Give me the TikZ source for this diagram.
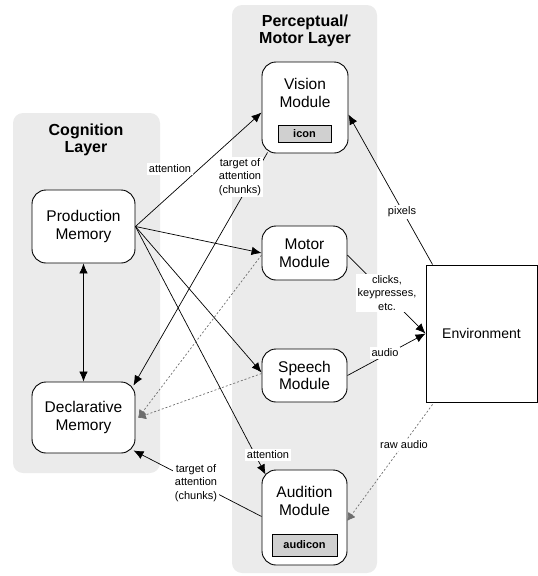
\documentclass[tikz,border=0pt]{standalone}
\usepackage{fontspec}
\setmainfont{Liberation Sans}
\usetikzlibrary{arrows.meta,calc}
\definecolor{panelgray}{RGB}{235,235,235}
\definecolor{boxgray}{RGB}{208,208,208}
\definecolor{dotgray}{RGB}{110,110,110}
\begin{document}
\begin{tikzpicture}[x=1pt,y=-1pt,
  panel/.style={fill=panelgray,draw=none,rounded corners=10pt},
  module/.style={draw,line width=0.9pt,rounded corners=14pt,fill=white,align=center,
    font=\fontsize{15.5}{17.5}\selectfont,inner sep=0pt},
  modtext/.style={font=\fontsize{15.5}{17.5}\selectfont,align=center},
  title/.style={font=\fontsize{16}{17.5}\selectfont\bfseries,align=center},
  lbl/.style={fill=white,align=center,font=\fontsize{11}{13.5}\selectfont,inner sep=1.5pt},
  buf/.style={draw,line width=0.9pt,fill=boxgray,font=\fontsize{11}{13}\selectfont\bfseries,inner sep=0pt},
  arr/.style={line width=0.7pt,-{Latex[length=10pt,width=8.5pt]}},
  darr/.style={line width=0.7pt,{Latex[length=10pt,width=8.5pt]}-{Latex[length=10pt,width=8.5pt]}},
  dotarr/.style={line width=0.7pt,dotgray,dash pattern=on 2pt off 2pt,-{Latex[length=8pt,width=9pt,round]}}
]
\useasboundingbox (0,0) rectangle (538,576);
% panels
\fill[panel] (13,113) rectangle (160,473);
\fill[panel] (232,5) rectangle (377,573);
\node[title] (tcog) at (86,140) {Cognition\\Layer};
\node[title] (tpm) at (305,31) {Perceptual/\\Motor Layer};
% modules
\node[module,minimum width=103pt,minimum height=73pt] (prod) at (83.5,226.5) {Production\\Memory};
\node[module,minimum width=103pt,minimum height=71pt] (decl) at (83.5,417.5) {Declarative\\Memory};
\node[module,minimum width=86pt,minimum height=91pt] (vision) at (305,107.5) {};
\node[modtext] (vlab) at (305,93) {Vision\\Module};
\node[buf,minimum width=53pt,minimum height=17pt] (icon) at (304.5,133.5) {icon};
\node[module,minimum width=85pt,minimum height=54pt] (motor) at (304.5,253) {Motor\\Module};
\node[module,minimum width=85pt,minimum height=53pt] (speech) at (304.5,375.5) {Speech\\Module};
\node[module,minimum width=85pt,minimum height=95pt] (aud) at (304.5,517.5) {};
\node[modtext] (alab) at (304.5,501) {Audition\\Module};
\node[buf,minimum width=65pt,minimum height=22pt] (audicon) at (304.5,545) {audicon};
\node[draw,line width=0.9pt,fill=white,minimum width=111pt,minimum height=137pt,
  font=\fontsize{14}{17}\selectfont] (env) at (481.5,333.5) {Environment};
% connectors
\draw[arr] (prod.east) -- ([yshift=-5pt]vision.west);
\draw[arr] (prod.east) -- (motor.west);
\draw[arr] (prod.east) -- ([yshift=3pt]speech.west);
\draw[arr] (prod.east) -- ($(aud.north west)+(4,5)$);
\draw[darr] (prod.south) -- (decl.north);
\draw[arr] ($(vision.south west)+(6,-1)$) -- ($(decl.north east)+(-2,4)$);
\draw[dotarr] ([yshift=-2pt]motor.west) -- ([xshift=3pt]decl.east);
\draw[dotarr] ([yshift=2pt]speech.west) -- ([xshift=3pt]decl.east);
\draw[arr] ([yshift=1pt]aud.west) -- ($(decl.south east)+(-2,-3)$);
\draw[arr] ($(env.north west)+(7,0)$) -- ([yshift=-7pt]vision.east);
\draw[arr] ([yshift=-2pt]motor.east) -- (env.west);
\draw[arr] (speech.east) -- (env.west);
\draw[dotarr] ($(env.south west)+(7,2)$) -- ([yshift=-3pt]aud.east);
% labels
\node[lbl] (l1) at (170,169) {attention};
\node[lbl] (l2) at (240,177) {target of\\attention\\(chunks)};
\node[lbl] (l3) at (402,212) {pixels};
\node[lbl] (l4) at (387,293) {clicks,\\keypresses,\\etc.};
\node[lbl] (l5) at (385,353) {audio};
\node[lbl] (l6) at (404,445) {raw audio};
\node[lbl] (l7) at (268,455) {attention};
\node[lbl] (l8) at (196,483) {target of\\attention\\(chunks)};
\end{tikzpicture}
\end{document}
